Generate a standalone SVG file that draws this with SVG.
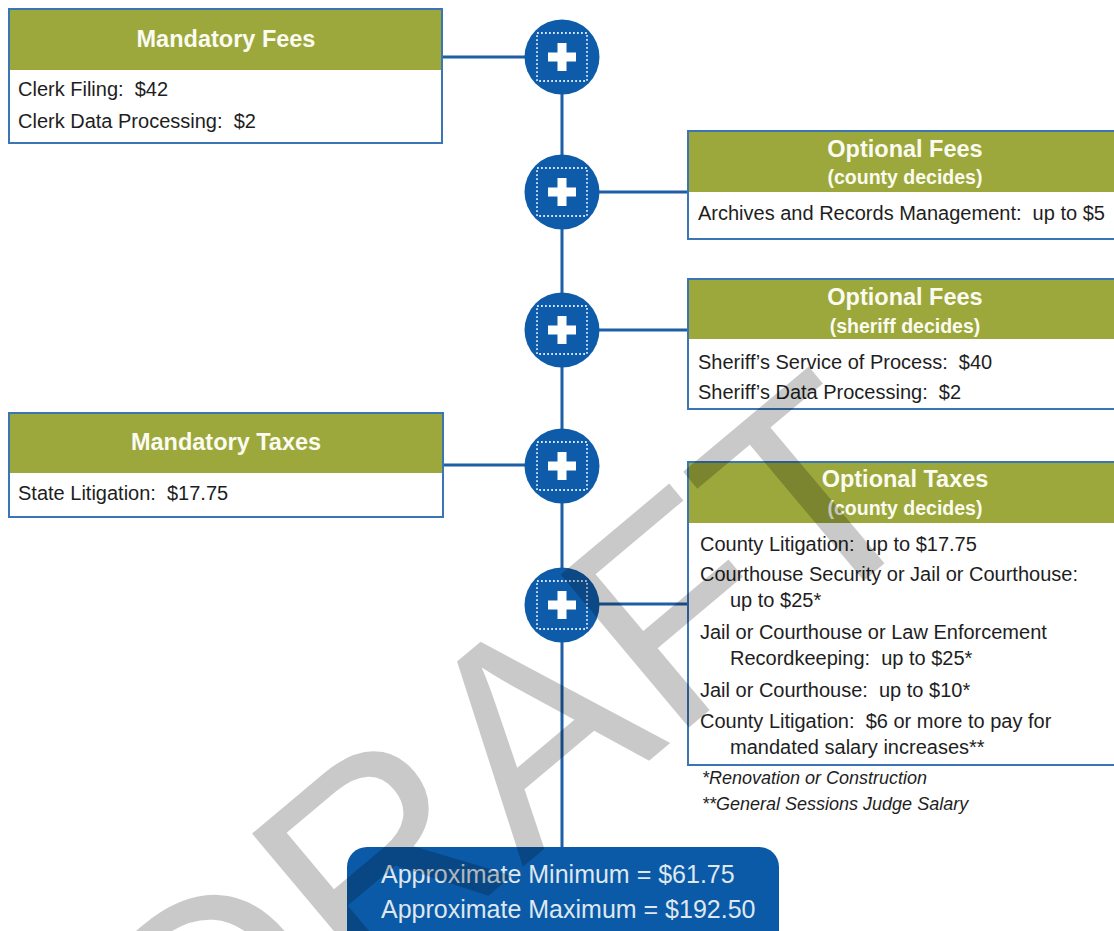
<svg xmlns="http://www.w3.org/2000/svg" width="1114" height="931" viewBox="0 0 1114 931">
  <style>
    text { white-space: pre; }
    .box { fill: #ffffff; stroke: #3a76b4; stroke-width: 2; }
    .hdr { fill: #9ca83b; }
    .title { font-family: "Liberation Sans", Arial, sans-serif; font-weight: bold; font-size: 23.5px; fill: #fbfbf2; text-anchor: middle; }
    .sub { font-family: "Liberation Sans", Arial, sans-serif; font-weight: bold; font-size: 19.5px; fill: #fbfbf2; text-anchor: middle; }
    .body { font-family: "Liberation Sans", Arial, sans-serif; font-size: 20px; fill: #1e1e1e; }
    .note { font-family: "Liberation Sans", Arial, sans-serif; font-style: italic; font-size: 18px; fill: #1e1e1e; }
    .link { stroke: #1d5fa5; stroke-width: 3; fill: none; }
    .disc { fill: #0e5ca9; }
    .dots { fill: none; stroke: #d6e5f5; stroke-width: 1.8; stroke-dasharray: 1.8 2.2; }
    .plus { fill: #ffffff; }
    .total { font-family: "Liberation Sans", Arial, sans-serif; font-size: 25px; fill: #dfe7ef; }
    .mark { font-family: "Liberation Sans", Arial, sans-serif; font-size: 290px; fill: #000000; fill-opacity: 0.21; text-anchor: middle; }
  </style>
  <defs>
    <!-- plus button used at every junction of the spine -->
    <g id="plusBtn">
      <circle class="disc" r="37.5"/>
      <rect class="dots" x="-25" y="-24" width="50" height="48"/>
      <rect class="plus" x="-14" y="-4.5" width="28" height="9"/>
      <rect class="plus" x="-4.5" y="-14" width="9" height="28"/>
    </g>
  </defs>

  <rect width="1114" height="931" fill="#ffffff"/>

  <!-- connectors -->
  <g id="connectors">
    <line class="link" x1="562" y1="57" x2="562" y2="850"/>
    <line class="link" x1="442" y1="57" x2="530" y2="57"/>
    <line class="link" x1="595" y1="192" x2="688" y2="192"/>
    <line class="link" x1="595" y1="330" x2="688" y2="330"/>
    <line class="link" x1="443" y1="465" x2="530" y2="465"/>
    <line class="link" x1="595" y1="604" x2="688" y2="604"/>
  </g>

  <!-- junction buttons -->
  <g id="btn1"><use href="#plusBtn" x="562" y="57"/></g>
  <g id="btn2"><use href="#plusBtn" x="562" y="192"/></g>
  <g id="btn3"><use href="#plusBtn" x="562" y="330"/></g>
  <g id="btn4"><use href="#plusBtn" x="562" y="466"/></g>
  <g id="btn5"><use href="#plusBtn" x="562" y="605"/></g>

  <!-- Mandatory Fees -->
  <g id="mandatory-fees">
    <rect class="box" x="9" y="9" width="433" height="134"/>
    <rect class="hdr" x="10" y="10" width="431" height="60"/>
    <text class="title" x="226" y="47">Mandatory Fees</text>
    <text class="body" x="18" y="96" xml:space="preserve">Clerk Filing:  $42</text>
    <text class="body" x="18" y="128" xml:space="preserve">Clerk Data Processing:  $2</text>
  </g>

  <!-- Optional Fees (county) -->
  <g id="optional-fees-county">
    <rect class="box" x="688" y="131" width="440" height="108"/>
    <rect class="hdr" x="689" y="132" width="438" height="60"/>
    <text class="title" x="905" y="157">Optional Fees</text>
    <text class="sub" x="905" y="184">(county decides)</text>
    <text class="body" x="698" y="220" xml:space="preserve">Archives and Records Management:  up to $5</text>
  </g>

  <!-- Optional Fees (sheriff) -->
  <g id="optional-fees-sheriff">
    <rect class="box" x="688" y="279" width="440" height="130"/>
    <rect class="hdr" x="689" y="280" width="438" height="59"/>
    <text class="title" x="905" y="305">Optional Fees</text>
    <text class="sub" x="905" y="333">(sheriff decides)</text>
    <text class="body" x="698" y="369" xml:space="preserve">Sheriff’s Service of Process:  $40</text>
    <text class="body" x="698" y="399" xml:space="preserve">Sheriff’s Data Processing:  $2</text>
  </g>

  <!-- Mandatory Taxes -->
  <g id="mandatory-taxes">
    <rect class="box" x="9" y="413" width="434" height="104"/>
    <rect class="hdr" x="10" y="414" width="432" height="59"/>
    <text class="title" x="226" y="450">Mandatory Taxes</text>
    <text class="body" x="18" y="500" xml:space="preserve">State Litigation:  $17.75</text>
  </g>

  <!-- Optional Taxes -->
  <g id="optional-taxes">
    <rect class="box" x="688" y="462" width="440" height="303"/>
    <rect class="hdr" x="689" y="463" width="438" height="60"/>
    <text class="title" x="905" y="487">Optional Taxes</text>
    <text class="sub" x="905" y="515">(county decides)</text>
    <text class="body" x="700" y="551" xml:space="preserve">County Litigation:  up to $17.75</text>
    <text class="body" x="700" y="581">Courthouse Security or Jail or Courthouse:</text>
    <text class="body" x="730" y="607">up to $25*</text>
    <text class="body" x="700" y="639">Jail or Courthouse or Law Enforcement</text>
    <text class="body" x="730" y="665" xml:space="preserve">Recordkeeping:  up to $25*</text>
    <text class="body" x="700" y="697" xml:space="preserve">Jail or Courthouse:  up to $10*</text>
    <text class="body" x="700" y="728" xml:space="preserve">County Litigation:  $6 or more to pay for</text>
    <text class="body" x="730" y="754">mandated salary increases**</text>
  </g>

  <!-- footnotes -->
  <g id="footnotes">
    <text class="note" x="702" y="784">*Renovation or Construction</text>
    <text class="note" x="702" y="810">**General Sessions Judge Salary</text>
  </g>

  <!-- totals -->
  <g id="totals">
    <rect x="347" y="847" width="432" height="110" rx="20" fill="#0b5aa7"/>
    <text class="total" x="381" y="883">Approximate Minimum = $61.75</text>
    <text class="total" x="381" y="918">Approximate Maximum = $192.50</text>
  </g>

  <!-- draft watermark -->
  <g id="watermark">
    <text class="mark" transform="translate(505 746) rotate(-40)" x="0" y="104">DRAFT</text>
  </g>
</svg>
